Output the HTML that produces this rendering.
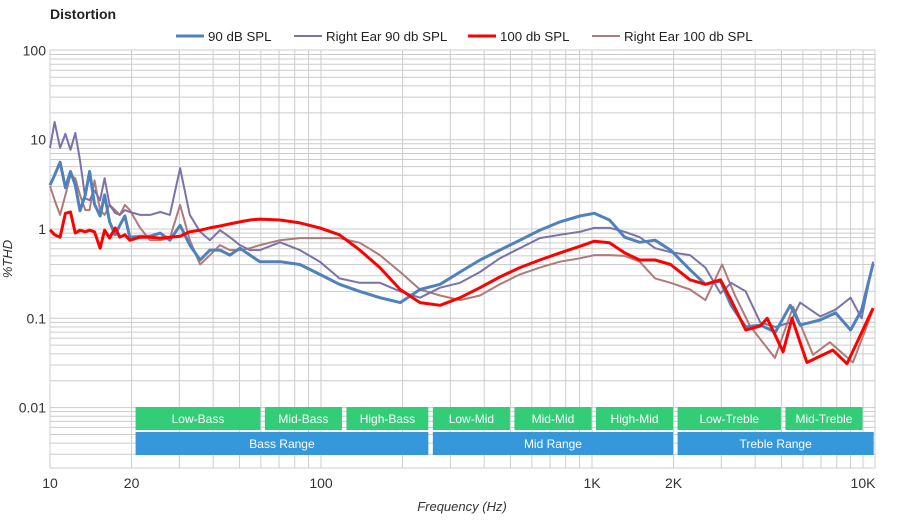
<!DOCTYPE html>
<html><head><meta charset="utf-8"><style>
body{margin:0;background:#fff;font-family:"Liberation Sans",sans-serif}
svg text{font-family:"Liberation Sans",sans-serif}
</style></head><body>
<svg id="chart" width="900" height="520">
<text x="50" y="19" font-size="14" font-weight="bold" fill="#222">Distortion</text>
<g id="grid"></g>
<g id="bands"></g>
<g id="series"></g>
<g id="axes"></g>
<g id="legend"></g>
<text x="12" y="259" font-size="13" font-style="italic" fill="#333" transform="rotate(-90 12 259)" text-anchor="middle">%THD</text>
<text x="462" y="511" font-size="13" font-style="italic" fill="#333" text-anchor="middle">Frequency (Hz)</text>
</svg>
<script>
const blueFreq=[10,10.4,10.9,11.4,11.9,12.4,12.9,13.5,14.0,14.6,15.3,15.9,16.6,17.4,18.1,18.9,19.7,21.5,23.4,25.5,27.7,30.2,32.8,35.8,38.9,42.4,46.1,50.2,54.7,59.5,70.6,83.6,99,117,139,165,196,232,275,326,386,457,542,642,761,902,1020,1160,1320,1500,1710,1950,2300,2620,2980,3260,3690,4180,4750,5390,5860,6960,7920,9000,9880,10900];
const blueVals=[3.1,4.0,5.6,2.9,4.4,3.1,1.6,2.4,4.4,1.9,1.4,2.4,1.2,0.86,1.1,1.4,0.81,0.83,0.83,0.9,0.75,1.1,0.66,0.45,0.58,0.58,0.51,0.61,0.51,0.43,0.43,0.40,0.31,0.24,0.20,0.17,0.15,0.21,0.24,0.33,0.45,0.58,0.75,0.97,1.2,1.4,1.5,1.26,0.81,0.71,0.75,0.58,0.35,0.24,0.26,0.14,0.080,0.084,0.070,0.14,0.084,0.096,0.115,0.074,0.124,0.41];
const purpleFreq=blueFreq;
const purpleVals=[8.1,15.8,8.1,11.6,7.7,11.9,5.9,2.2,2.1,2.7,2.1,3.7,1.86,1.51,1.44,1.63,1.55,1.44,1.44,1.55,1.44,4.8,1.44,0.93,0.75,0.97,0.81,0.66,0.58,0.58,0.71,0.58,0.43,0.28,0.25,0.25,0.20,0.17,0.22,0.25,0.33,0.47,0.61,0.79,0.86,0.93,1.03,1.03,0.93,0.81,0.61,0.55,0.51,0.37,0.19,0.25,0.2,0.09,0.08,0.09,0.15,0.105,0.125,0.17,0.10,0.43];
const redFreq=[10,10.4,10.9,11.4,11.9,12.4,12.9,13.5,14.0,14.6,15.3,15.9,16.6,17.4,18.1,18.9,19.7,21.5,23.4,25.5,27.7,30.2,32.8,35.8,38.9,42.4,46.1,50.2,54.7,59.5,70.6,83.6,99,117,139,165,196,232,275,326,386,457,542,642,761,902,1020,1160,1320,1500,1710,1950,2300,2620,2980,3260,3690,4180,4430,5070,5470,6210,7740,8730,10900];
const redVals=[0.98,0.86,0.81,1.5,1.55,0.9,0.97,0.93,0.97,0.93,0.61,0.97,0.79,1.03,0.81,0.86,0.75,0.81,0.81,0.79,0.81,0.83,0.93,0.97,1.03,1.08,1.14,1.2,1.26,1.29,1.26,1.17,1.03,0.86,0.58,0.37,0.21,0.15,0.14,0.17,0.22,0.29,0.37,0.45,0.54,0.64,0.73,0.70,0.54,0.45,0.45,0.40,0.27,0.24,0.27,0.16,0.074,0.082,0.10,0.042,0.10,0.032,0.044,0.031,0.13];
const roseFreq=[10,10.4,10.9,11.4,11.9,12.4,12.9,13.5,14.0,14.6,15.3,15.9,16.6,17.4,18.1,18.9,19.7,21.5,23.4,25.5,27.7,30.2,32.8,35.8,38.9,42.4,46.1,50.2,54.7,59.5,70.6,83.6,99,117,139,165,196,232,275,326,386,457,542,642,761,902,1020,1160,1320,1500,1710,1950,2300,2620,3020,3370,3830,4730,5520,6540,7550,9180,10900];
const roseVals=[3.03,2.11,1.44,2.4,4.0,3.7,2.4,1.63,1.63,3.5,1.63,1.44,1.86,1.63,1.44,1.86,1.63,1.03,0.75,0.75,0.79,1.86,0.75,0.40,0.51,0.66,0.58,0.58,0.61,0.66,0.75,0.79,0.79,0.79,0.70,0.51,0.33,0.21,0.18,0.16,0.18,0.24,0.31,0.37,0.43,0.47,0.51,0.51,0.50,0.43,0.28,0.25,0.21,0.16,0.40,0.18,0.082,0.036,0.134,0.039,0.054,0.032,0.125];
const bandNames=["Low-Bass","Mid-Bass","High-Bass","Low-Mid","Mid-Mid","High-Mid","Low-Treble","Mid-Treble"];
const bandStarts=[20,60,120,250,500,1000,2000,5000];
const bandEnds=[60,120,250,500,1000,2000,5000,10000];
const rangeNames=["Bass Range","Mid Range","Treble Range"];
const rangeStarts=[20,250,2000];
const rangeEnds=[250,2000,11000];
const xTickVals=[10,20,100,1000,2000,10000];
const xTickLabels=["10","20","100","1K","2K","10K"];
const yTickVals=[100,10,1,0.1,0.01];
const yTickLabels=["100","10","1","0.1","0.01"];

const NS="http://www.w3.org/2000/svg";
const L=50,R=875,T=50,B=468;
const xs=f=>50+271*(Math.log10(f)-1);
const ys=v=>229-89.3*Math.log10(v);
function mk(tag,attrs,parent){const e=document.createElementNS(NS,tag);for(const k in attrs)e.setAttribute(k,attrs[k]);parent.appendChild(e);return e;}
const grid=document.getElementById('grid');
const bg=mk('rect',{x:L,y:T,width:R-L,height:B-T,fill:'#fff',stroke:'#ccc'},grid);


for(let d=1;d<=4;d++)for(let m=1;m<10;m++){const f=Math.pow(10,d)*m;const x=xs(f);if(x>R)continue;
 const ln=mk('line',{x1:x,x2:x,y1:T,y2:B,stroke:'#ccc','stroke-width':1},grid);
 
 }
for(let d=-3;d<=1;d++)for(let m=1;m<10;m++){const v=Math.pow(10,d)*m;const y=ys(v);if(y<T||y>B)continue;
 const ln=mk('line',{x1:L,x2:R,y1:y,y2:y,stroke:'#ccc','stroke-width':1},grid);
 
 }
const bands=document.getElementById('bands');
bandNames.forEach((n,i)=>{const x1=xs(bandStarts[i])+4,x2=xs(bandEnds[i])-0.5;
 const r=mk('rect',{x:x1,y:407,width:x2-x1,height:23,fill:'#33cc77'},bands);
 
 
 const t=mk('text',{x:(x1+x2)/2,y:423,'font-size':12,fill:'#fff','text-anchor':'middle'},bands);t.textContent=n;
 
 });
rangeNames.forEach((n,i)=>{const x1=xs(rangeStarts[i])+4,x2=Math.min(xs(rangeEnds[i])-0.5,876);
 const r=mk('rect',{x:x1,y:432,width:x2-x1,height:23,fill:'#3498db'},bands);
 
 
 const t=mk('text',{x:(x1+x2)/2,y:448,'font-size':12,fill:'#fff','text-anchor':'middle'},bands);t.textContent=n;
 
 });
const series=document.getElementById('series');
const defs=[[roseFreq,roseVals,'#b07a78',2,'right-ear-100db-line'],[purpleFreq,purpleVals,'#7a72a8',2,'right-ear-90db-line'],[blueFreq,blueVals,'#4f81bd',3,'90db-line'],[redFreq,redVals,'#ff0000',3,'100db-line']];
defs.forEach(([F,V,c,w,n])=>{const d=F.map((f,i)=>(i?'L':'M')+xs(f).toFixed(1)+','+ys(V[i]).toFixed(1)).join(' ');
 const p=mk('path',{d:d,fill:'none',stroke:c,'stroke-width':w,'stroke-linejoin':'round'},series);
 
 });
const axes=document.getElementById('axes');
xTickVals.forEach((v,i)=>{const t=mk('text',{x:xs(v),y:488,'font-size':14,fill:'#333','text-anchor':'middle'},axes);t.textContent=xTickLabels[i];
 
 });
yTickVals.forEach((v,i)=>{const t=mk('text',{x:46,y:ys(v)+5,'font-size':14,fill:'#333','text-anchor':'end'},axes);t.textContent=yTickLabels[i];
 
 });
const legend=document.getElementById('legend');
const leg=[[176,'#4f81bd',3,'90 dB SPL'],[294,'#7a72a8',2,'Right Ear 90 db SPL'],[468,'#ff0000',3,'100 db SPL'],[592,'#b07a78',2,'Right Ear 100 db SPL']];
leg.forEach(([x,c,w,n])=>{const g=mk('g',{},legend);
 
 
 mk('line',{x1:x,x2:x+28,y1:36,y2:36,stroke:c,'stroke-width':w},g);
 const t=mk('text',{x:x+32,y:41,'font-size':13.3,fill:'#222'},g);t.textContent=n;});
</script>
</body></html>
